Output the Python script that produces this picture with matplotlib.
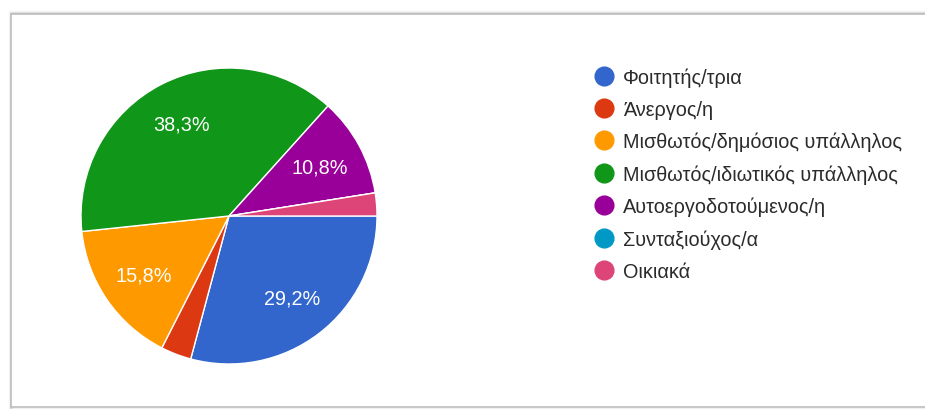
import matplotlib
matplotlib.use("Agg")
import matplotlib.pyplot as plt
from matplotlib.lines import Line2D
from matplotlib.patches import Rectangle

plt.rcParams['font.family'] = ['Liberation Sans', 'DejaVu Sans']

# Responses per occupation group
categories = [
    "Φοιτητής/τρια",
    "Άνεργος/η",
    "Μισθωτός/δημόσιος υπάλληλος",
    "Μισθωτός/ιδιωτικός υπάλληλος",
    "Αυτοεργοδοτούμενος/η",
    "Συνταξιούχος/α",
    "Οικιακά",
]
counts = [35, 4, 19, 46, 13, 0, 3]
colors = ["#3366CC", "#DC3912", "#FF9900", "#109618", "#990099", "#0099C6", "#DD4477"]

W, H = 925, 410
fig = plt.figure(figsize=(W / 100, H / 100), dpi=100)
fig.patch.set_facecolor("white")

# Card frame with a soft shadow on the top and left edges (behind the chart)
for i, a in enumerate([0.45, 0.2, 0.08]):
    fig.add_artist(Rectangle(((11 - i) / W, 0.0), 2.0, (H - 14 + i) / H,
                             transform=fig.transFigure, fill=False,
                             edgecolor="#9a9a9a", linewidth=1.0, alpha=a,
                             zorder=-10))
fig.add_artist(Rectangle((11 / W, 2 / H), 2.0, (H - 17) / H,
                         transform=fig.transFigure, fill=True,
                         facecolor="white", edgecolor="#bdbdbd", linewidth=1.2,
                         zorder=-9))

ax = fig.add_axes([0, 0, 1, 1])
ax.set_zorder(1)
ax.patch.set_visible(False)


def pct_label(p):
    if p < 5:
        return ""
    return f"{p:.1f}%".replace(".", ",")


wedges, texts, autotexts = ax.pie(
    counts,
    colors=colors,
    startangle=0,
    counterclock=False,
    center=(229, H - 217),
    radius=148,
    autopct=pct_label,
    pctdistance=0.70,
    wedgeprops=dict(edgecolor="white", linewidth=1.0),
    textprops=dict(color="white", fontsize=14.3),
    frame=True,
)
ax.set_xlim(0, W)
ax.set_ylim(0, H)
ax.set_aspect("equal")
ax.axis("off")

handles = [Line2D([], [], linestyle="none", marker="o", markersize=13.5,
                  markerfacecolor=c, markeredgecolor=c) for c in colors]
leg = ax.legend(handles, categories, loc="upper left",
                bbox_to_anchor=(594 / W, 1 - 68 / H), bbox_transform=fig.transFigure,
                frameon=False, fontsize=14.3, labelspacing=0.655,
                handlelength=1.0, handletextpad=0.45, borderaxespad=0,
                borderpad=0)
for t in leg.get_texts():
    t.set_color("#2b2b2b")

fig.savefig("out.png", dpi=100, facecolor="white")
